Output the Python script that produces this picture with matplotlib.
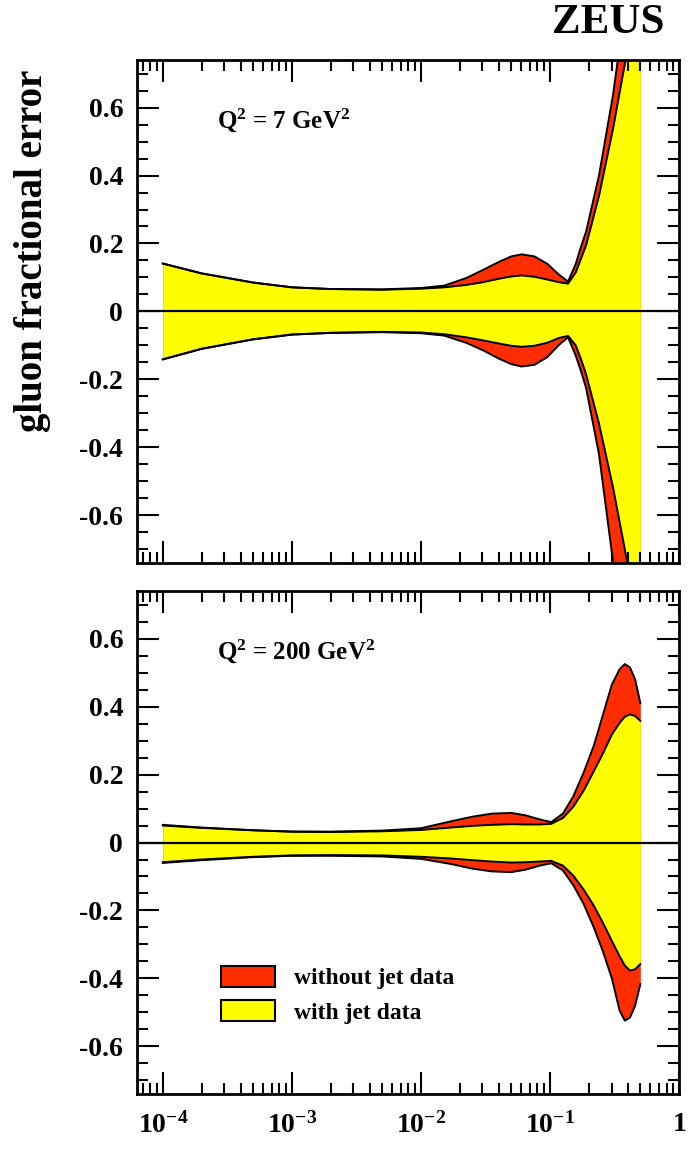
import matplotlib
matplotlib.use('Agg')
import matplotlib.pyplot as plt
import numpy as np
from matplotlib.ticker import LogLocator, MultipleLocator, NullFormatter
from matplotlib.patches import Patch

plt.rcParams['font.family'] = 'Liberation Serif'
plt.rcParams['font.weight'] = 'bold'
plt.rcParams['mathtext.fontset'] = 'custom'
plt.rcParams['mathtext.rm'] = 'Liberation Serif:bold'
plt.rcParams['mathtext.it'] = 'Liberation Serif:bold'
plt.rcParams['mathtext.bf'] = 'Liberation Serif:bold'

RED = '#ff2d00'
YEL = '#ffff00'

# ---- Q^2 = 7 GeV^2 (x given as log10 x) ----
logx_top = [-4.0, -3.7, -3.3, -3.0, -2.7, -2.3, -2.0, -1.82, -1.65, -1.52, -1.4, -1.3,
            -1.22, -1.12, -1.02, -0.93, -0.86, -0.80, -0.76, -0.72, -0.62, -0.51, -0.40, -0.30]
top_yel_hi = [0.141, 0.112, 0.085, 0.071, 0.066, 0.064, 0.067, 0.071, 0.078, 0.086, 0.096,
              0.103, 0.106, 0.102, 0.094, 0.086, 0.082, 0.115, 0.155, 0.195, 0.340, 0.540,
              0.770, 1.000]
top_red_hi = [0.141, 0.112, 0.085, 0.071, 0.066, 0.065, 0.069, 0.076, 0.098, 0.122, 0.145,
              0.162, 0.168, 0.162, 0.140, 0.108, 0.088, 0.140, 0.190, 0.235, 0.400, 0.640,
              0.950, 1.300]
top_yel_lo = [-0.141, -0.110, -0.082, -0.068, -0.063, -0.060, -0.062, -0.067, -0.076, -0.085,
              -0.094, -0.101, -0.104, -0.101, -0.092, -0.078, -0.072, -0.100, -0.140, -0.185,
              -0.330, -0.520, -0.740, -0.980]
top_red_lo = [-0.141, -0.110, -0.082, -0.068, -0.063, -0.061, -0.064, -0.071, -0.092, -0.114,
              -0.138, -0.155, -0.162, -0.157, -0.134, -0.098, -0.076, -0.130, -0.175, -0.225,
              -0.420, -0.740, -1.050, -1.400]

# ---- Q^2 = 200 GeV^2 ----
logx_bot = [-4.0, -3.7, -3.3, -3.0, -2.7, -2.3, -2.0, -1.77, -1.6, -1.45, -1.3, -1.19, -1.08,
            -0.99, -0.9, -0.82, -0.74, -0.66, -0.59, -0.52, -0.46, -0.42, -0.38, -0.34, -0.30]
bot_yel_hi = [0.050, 0.043, 0.036, 0.032, 0.031, 0.033, 0.037, 0.044, 0.049, 0.052, 0.054,
              0.053, 0.053, 0.055, 0.072, 0.105, 0.152, 0.210, 0.262, 0.318, 0.352, 0.370,
              0.377, 0.372, 0.358]
bot_red_hi = [0.052, 0.044, 0.036, 0.032, 0.032, 0.035, 0.042, 0.062, 0.076, 0.085, 0.087,
              0.080, 0.068, 0.060, 0.085, 0.135, 0.205, 0.285, 0.375, 0.465, 0.510, 0.525,
              0.515, 0.480, 0.410]
bot_yel_lo = [-0.058, -0.050, -0.042, -0.038, -0.037, -0.038, -0.042, -0.047, -0.052, -0.056,
              -0.059, -0.058, -0.056, -0.054, -0.068, -0.097, -0.138, -0.186, -0.236, -0.290,
              -0.335, -0.362, -0.377, -0.373, -0.358]
bot_red_lo = [-0.060, -0.052, -0.043, -0.039, -0.039, -0.041, -0.048, -0.063, -0.077, -0.085,
              -0.087, -0.080, -0.068, -0.061, -0.082, -0.125, -0.180, -0.250, -0.320, -0.400,
              -0.495, -0.524, -0.515, -0.480, -0.417]

yticks = [-0.6, -0.4, -0.2, 0.0, 0.2, 0.4, 0.6]
ytick_labels = ['-0.6', '-0.4', '-0.2', '0', '0.2', '0.4', '0.6']
xticks = [1e-4, 1e-3, 1e-2, 1e-1, 1]
xtick_labels = [r'$10^{-4}$', r'$10^{-3}$', r'$10^{-2}$', r'$10^{-1}$', r'$1$']

fig = plt.figure(figsize=(6.97, 11.6), dpi=100)
ax1 = fig.add_axes([0.1966, 0.5147, 0.7776, 0.4336])
ax2 = fig.add_axes([0.1966, 0.0569, 0.7776, 0.4336])


def panel(ax, logx, rhi, rlo, yhi, ylo, label):
    x = np.power(10.0, logx)
    ax.fill_between(x, rlo, rhi, color=RED, lw=0)
    ax.fill_between(x, ylo, yhi, color=YEL, lw=0)
    for c in (rhi, rlo, yhi, ylo):
        ax.plot(x, c, color='black', lw=1.4)
    ax.axhline(0, color='black', lw=1.6)
    ax.set_xscale('log')
    ax.set_xlim(10 ** -4.2, 1)
    ax.set_ylim(-0.74, 0.74)
    ax.set_xticks(xticks)
    ax.xaxis.set_minor_locator(LogLocator(base=10, subs=range(2, 10), numticks=20))
    ax.xaxis.set_minor_formatter(NullFormatter())
    ax.set_yticks(yticks)
    ax.set_yticklabels(ytick_labels)
    ax.yaxis.set_minor_locator(MultipleLocator(0.05))
    ax.tick_params(which='both', direction='in', top=True, right=True, width=1.5)
    ax.tick_params(which='major', length=16, labelsize=20, pad=10)
    ax.tick_params(which='minor', length=8)
    for s in ax.spines.values():
        s.set_linewidth(2)
    ax.text(0.148, 0.88, label, transform=ax.transAxes, fontsize=18,
            fontweight='bold', va='center', ha='left')


panel(ax1, logx_top, top_red_hi, top_red_lo, top_yel_hi, top_yel_lo, 'Q$^2$ = 7 GeV$^2$')
panel(ax2, logx_bot, bot_red_hi, bot_red_lo, bot_yel_hi, bot_yel_lo, 'Q$^2$ = 200 GeV$^2$')
ax1.tick_params(labelbottom=False)
ax2.set_xticklabels(xtick_labels)
ax2.tick_params(axis='x', which='major', pad=13)

handles = [Patch(facecolor=RED, edgecolor='black', lw=1.5, label='without jet data'),
           Patch(facecolor=YEL, edgecolor='black', lw=1.5, label='with jet data')]
ax2.legend(handles=handles, loc='upper left', bbox_to_anchor=(0.155, 0.255),
           frameon=False, fontsize=17, handlelength=2.3, handleheight=1.0,
           handletextpad=0.8, labelspacing=0.45, borderpad=0, borderaxespad=0)

fig.text(0.046, 0.784, 'gluon fractional error', rotation=90, fontsize=28,
         fontweight='bold', ha='center', va='center')
fig.text(0.872, 0.980, 'ZEUS', fontsize=31, fontweight='bold', ha='center', va='center')

fig.savefig('out.png', dpi=100)
